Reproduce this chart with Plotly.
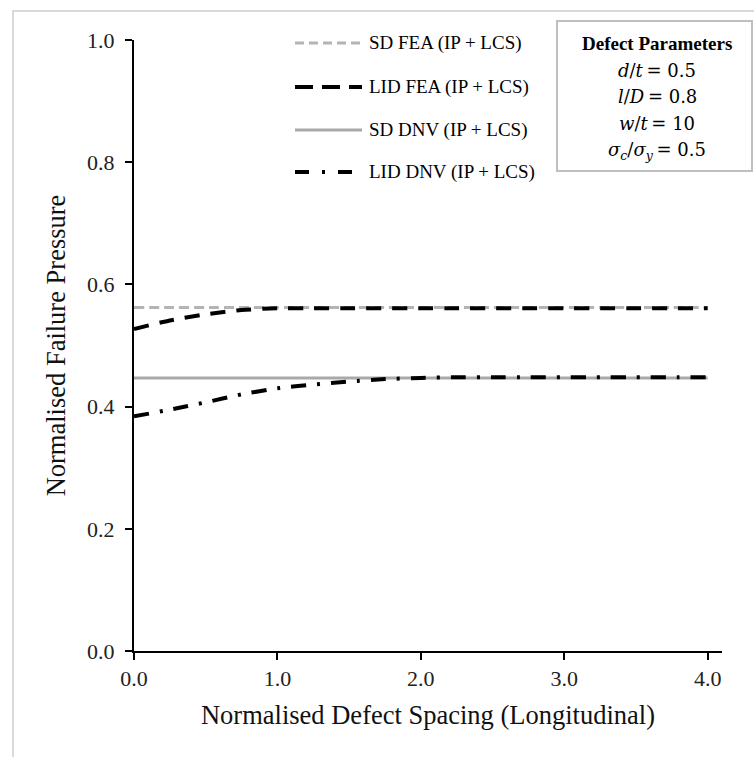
import plotly.graph_objects as go

# Normalised defect spacing (longitudinal)
spacing = [0.0, 0.25, 0.5, 0.75, 1.0, 1.25, 1.5, 1.75, 2.0, 2.25, 2.5,
           2.75, 3.0, 3.25, 3.5, 3.75, 4.0]

# Normalised failure pressure for each series
sd_fea = [0.562] * len(spacing)
lid_fea = [0.527, 0.541, 0.551, 0.558, 0.561, 0.561, 0.561, 0.561, 0.561,
           0.561, 0.561, 0.561, 0.561, 0.561, 0.561, 0.561, 0.561]
sd_dnv = [0.447] * len(spacing)
lid_dnv = [0.384, 0.395, 0.407, 0.420, 0.430, 0.436, 0.441, 0.445, 0.447,
           0.448, 0.448, 0.448, 0.448, 0.448, 0.448, 0.448, 0.448]

series_names = ["SD FEA (IP + LCS)", "LID FEA (IP + LCS)",
                "SD DNV (IP + LCS)", "LID DNV (IP + LCS)"]

x_ticks = [0.0, 1.0, 2.0, 3.0, 4.0]
x_tick_text = ["0.0", "1.0", "2.0", "3.0", "4.0"]
y_ticks = [0.0, 0.2, 0.4, 0.6, 0.8, 1.0]
y_tick_text = ["0.0", "0.2", "0.4", "0.6", "0.8", "1.0"]

param_title = "Defect Parameters"
param_lines = [
    "<i>d</i>/<i>t</i>\u2009= 0.5",
    "<i>l</i>/<i>D</i>\u2009= 0.8",
    "<i>w</i>/<i>t</i>\u2009= 10",
    "<i>σ</i><sub><i>c</i></sub>/<i>σ</i><sub><i>y</i></sub>\u2009= 0.5",
]

W, H = 754, 757
ML, MR, MT, MB = 134, 32, 40, 106
PW, PH = W - ML - MR, H - MT - MB

SERIF = "Liberation Serif, Times New Roman, serif"
MATH = "DejaVu Serif, Cambria, serif"
GREY_DASH = "#b4b4b4"
GREY_SOLID = "#a9a9a9"
BLACK = "#000000"

styles = [
    dict(color=GREY_DASH, width=3, dash="10px,5px"),
    dict(color=BLACK, width=4, dash="15px,11px"),
    dict(color=GREY_SOLID, width=3, dash="solid"),
    dict(color=BLACK, width=4, dash="15px,11px,3px,11px"),
]
legend_dashes = ["9px,5px", "18px,9px", "solid", "14px,13px,3px,13px"]
series = [sd_fea, lid_fea, sd_dnv, lid_dnv]


def px_x(p):
    return (p - ML) / PW


def px_y(p):
    return (H - MB - p) / PH


fig = go.Figure()
# grey reference lines underneath, black interacting-defect curves on top
for idx in [0, 2, 1, 3]:
    fig.add_trace(go.Scatter(
        x=spacing, y=series[idx], mode="lines", name=series_names[idx],
        line=dict(shape="spline", smoothing=0.6, **styles[idx]),
        showlegend=False, hoverinfo="x+y+name",
    ))

shapes = []
annotations = []

# outer frame of the figure
shapes.append(dict(type="rect", xref="paper", yref="paper",
                   x0=px_x(13), x1=px_x(W + 20), y0=px_y(H + 20), y1=px_y(11),
                   line=dict(color="#d9d9d9", width=2), fillcolor="rgba(0,0,0,0)",
                   layer="below"))

# legend entries
legend_rows = [43, 87, 130, 172]
for i, name in enumerate(series_names):
    yy = px_y(legend_rows[i])
    st = styles[i]
    shapes.append(dict(type="line", xref="paper", yref="paper",
                       x0=px_x(295), x1=px_x(362), y0=yy, y1=yy,
                       line=dict(color=st["color"], width=st["width"],
                                 dash=legend_dashes[i])))
    annotations.append(dict(xref="paper", yref="paper", x=px_x(367), y=yy,
                            xanchor="left", yanchor="middle", showarrow=False,
                            text=name, font=dict(family=SERIF, size=19, color="black")))

# parameter box
shapes.append(dict(type="rect", xref="paper", yref="paper",
                   x0=px_x(557), x1=px_x(752), y0=px_y(171), y1=px_y(21),
                   line=dict(color="#bfbfbf", width=2), fillcolor="white"))
annotations.append(dict(xref="paper", yref="paper", x=px_x(657), y=px_y(43),
                        xanchor="center", yanchor="middle", showarrow=False,
                        text="<b>" + param_title + "</b>",
                        font=dict(family=SERIF, size=19, color="black")))
for txt, yy in zip(param_lines, [70, 97, 123, 151]):
    annotations.append(dict(xref="paper", yref="paper", x=px_x(657), y=px_y(yy),
                            xanchor="center", yanchor="middle", showarrow=False,
                            text=txt, font=dict(family=MATH, size=18, color="black")))

fig.update_layout(
    width=W, height=H,
    margin=dict(l=ML, r=MR, t=MT, b=MB, autoexpand=False),
    paper_bgcolor="white", plot_bgcolor="white",
    font=dict(family=SERIF, color="black"),
    shapes=shapes, annotations=annotations,
    xaxis=dict(
        range=[0, 4.1], tickvals=x_ticks, ticktext=x_tick_text,
        showline=True, linecolor="black", linewidth=2,
        ticks="outside", ticklen=7, tickwidth=2, tickcolor="black",
        showgrid=False, zeroline=False,
        tickfont=dict(family=SERIF, size=22, color="#222"),
        title=dict(text="Normalised Defect Spacing (Longitudinal)",
                   font=dict(family=SERIF, size=26.5, color="#111"), standoff=15),
    ),
    yaxis=dict(
        range=[0, 1.0], tickvals=y_ticks, ticktext=y_tick_text,
        showline=True, linecolor="black", linewidth=2,
        ticks="outside", ticklen=7, tickwidth=2, tickcolor="black",
        showgrid=False, zeroline=False, ticklabelstandoff=6,
        tickfont=dict(family=SERIF, size=22, color="#222"),
        title=dict(text="Normalised Failure Pressure",
                   font=dict(family=SERIF, size=26.5, color="#111"), standoff=14),
    ),
)

fig.write_html("out.html")
